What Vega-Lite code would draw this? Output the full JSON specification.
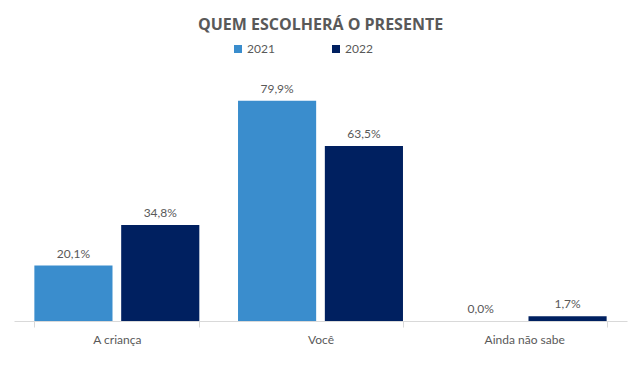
{
  "$schema": "https://vega.github.io/schema/vega-lite/v6.json",
  "width": 613,
  "height": 248,
  "autosize": {"type": "none"},
  "padding": {"left": 14, "top": 73, "right": 16, "bottom": 58},
  "background": "white",
  "config": {
    "view": {"stroke": null},
    "locale": {"number": {"decimal": ",", "thousands": ".", "grouping": [3], "currency": ["R$", ""]}},
    "font": "Lato"
  },
  "title": {
    "text": "QUEM ESCOLHERÁ O PRESENTE",
    "anchor": "middle",
    "fontSize": 16,
    "fontWeight": "bold",
    "color": "#595959",
    "font": "Open Sans",
    "offset": 10
  },
  "data": {
    "values": [
      {"categoria": "A criança", "ano": "2021", "valor": 0.201},
      {"categoria": "A criança", "ano": "2022", "valor": 0.348},
      {"categoria": "Você", "ano": "2021", "valor": 0.799},
      {"categoria": "Você", "ano": "2022", "valor": 0.635},
      {"categoria": "Ainda não sabe", "ano": "2021", "valor": 0.0},
      {"categoria": "Ainda não sabe", "ano": "2022", "valor": 0.017}
    ]
  },
  "encoding": {
    "x": {
      "field": "categoria",
      "type": "nominal",
      "sort": null,
      "title": null,
      "scale": {"paddingInner": 0.19, "paddingOuter": 0.1},
      "axis": {
        "labelAngle": 0,
        "labelFontSize": 12,
        "labelColor": "#595959",
        "labelPadding": 7,
        "domainColor": "#d9d9d9",
        "tickColor": "#d9d9d9",
        "tickBand": "extent",
        "tickSize": 6
      }
    },
    "xOffset": {"field": "ano", "type": "nominal", "scale": {"paddingInner": 0.1}},
    "y": {
      "field": "valor",
      "type": "quantitative",
      "scale": {"domain": [0, 0.9]},
      "axis": null
    }
  },
  "layer": [
    {
      "mark": {"type": "bar"},
      "encoding": {
        "color": {
          "field": "ano",
          "type": "nominal",
          "scale": {"domain": ["2021", "2022"], "range": ["#3A8DCD", "#002060"]},
          "legend": {
            "title": null,
            "orient": "none",
            "direction": "horizontal",
            "legendX": 218,
            "legendY": -30,
            "symbolType": "square",
            "symbolSize": 64,
            "symbolStrokeWidth": 0,
            "labelFontSize": 12,
            "labelColor": "#595959",
            "columnPadding": 55,
            "labelOffset": 3
          }
        }
      }
    },
    {
      "mark": {"type": "text", "dy": -12, "fontSize": 12, "color": "#595959"},
      "encoding": {
        "text": {"field": "valor", "type": "quantitative", "format": ".1%"}
      }
    }
  ]
}
